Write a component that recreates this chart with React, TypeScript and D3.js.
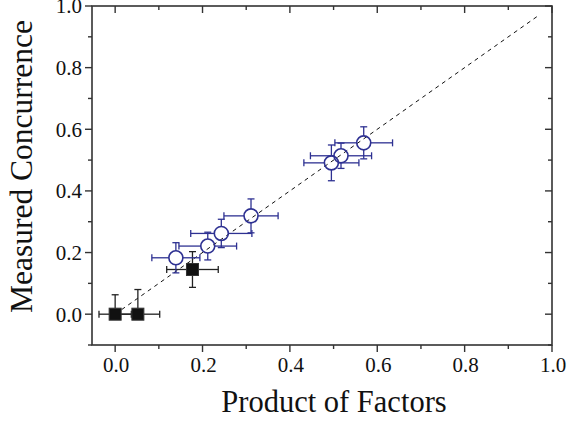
import React from "react";
import { scaleLinear, line } from "d3";

// open circles (blue)
const circleX = [0.139, 0.212, 0.243, 0.311, 0.495, 0.517, 0.569];
const circleY = [0.183, 0.221, 0.262, 0.319, 0.491, 0.514, 0.556];
const circleXErr = [0.055, 0.066, 0.07, 0.062, 0.063, 0.07, 0.066];
const circleYErr = [0.049, 0.045, 0.046, 0.055, 0.058, 0.041, 0.052];

// filled squares (black)
const squareX = [0.0, 0.052, 0.177];
const squareY = [0.0, 0.0, 0.145];
const squareXErr = [0.037, 0.05, 0.059];
const squareYErrUp = [0.063, 0.08, 0.058];
const squareYErrDown = [0, 0, 0.058];

const refLine: [number, number][] = [
  [0, 0],
  [0.97, 0.97],
];

const majorTicks = [0, 0.2, 0.4, 0.6, 0.8, 1.0];
const xMinorTicks = [0.1, 0.3, 0.5, 0.7, 0.9];
const yMinorTicks = [-0.1, 0.1, 0.3, 0.5, 0.7, 0.9];

const xTitle = "Product of Factors";
const yTitle = "Measured Concurrence";

const W = 569;
const H = 423;
const left = 92;
const right = 552;
const top = 6;
const bottom = 345;

const BLUE = "#2e3192";
const AXIS = "#333";
const FONT = "'Liberation Serif', 'Times New Roman', serif";

const App = () => {
  const x = scaleLinear().domain([-0.053, 1.0]).range([left, right]);
  const y = scaleLinear().domain([-0.1, 1.0]).range([bottom, top]);
  const r = 7;
  const half = 6;
  const cap = 3.5;

  const errBars = (
    cx: number,
    cy: number,
    xl: number,
    xr: number,
    yt: number,
    yb: number,
    gap: number,
    color: string,
    key: string
  ) => {
    const segs: JSX.Element[] = [];
    if (xr - cx > gap) {
      segs.push(<line key="r" x1={cx + gap} x2={xr} y1={cy} y2={cy} />);
      segs.push(<line key="rc" x1={xr} x2={xr} y1={cy - cap} y2={cy + cap} />);
    }
    if (cx - xl > gap) {
      segs.push(<line key="l" x1={cx - gap} x2={xl} y1={cy} y2={cy} />);
      segs.push(<line key="lc" x1={xl} x2={xl} y1={cy - cap} y2={cy + cap} />);
    }
    if (cy - yt > gap) {
      segs.push(<line key="t" x1={cx} x2={cx} y1={cy - gap} y2={yt} />);
      segs.push(<line key="tc" x1={cx - cap} x2={cx + cap} y1={yt} y2={yt} />);
    }
    if (yb - cy > gap) {
      segs.push(<line key="b" x1={cx} x2={cx} y1={cy + gap} y2={yb} />);
      segs.push(<line key="bc" x1={cx - cap} x2={cx + cap} y1={yb} y2={yb} />);
    }
    return (
      <g key={key} stroke={color} strokeWidth={1.3}>
        {segs}
      </g>
    );
  };

  const path = line<[number, number]>()
    .x((d) => x(d[0]))
    .y((d) => y(d[1]));

  return (
    <div style={{ position: "absolute", left: 0, top: 0 }}>
      <svg width={W} height={H} style={{ display: "block" }}>
        <rect width={W} height={H} fill="#fff" />

        {/* reference line */}
        <path
          d={path(refLine) || ""}
          fill="none"
          stroke="#111"
          strokeWidth={1}
          strokeDasharray="4,4"
        />

        {/* frame */}
        <rect
          x={left}
          y={top}
          width={right - left}
          height={bottom - top}
          fill="none"
          stroke={AXIS}
          strokeWidth={1.6}
        />

        {/* x ticks: outward on bottom, inward on top */}
        {majorTicks.map((t) => (
          <g key={"xt" + t} stroke={AXIS} strokeWidth={1.4}>
            <line x1={x(t)} x2={x(t)} y1={bottom} y2={bottom + 7} />
            <line x1={x(t)} x2={x(t)} y1={top} y2={top + 7} />
          </g>
        ))}
        {xMinorTicks.map((t) => (
          <g key={"xm" + t} stroke={AXIS} strokeWidth={1.4}>
            <line x1={x(t)} x2={x(t)} y1={bottom} y2={bottom + 4} />
            <line x1={x(t)} x2={x(t)} y1={top} y2={top + 4} />
          </g>
        ))}
        {majorTicks.map((t) => (
          <text
            key={"xl" + t}
            x={x(t) + 1}
            y={bottom + 27}
            textAnchor="middle"
            fontFamily={FONT}
            fontSize={21}
            fill="#111"
          >
            {t.toFixed(1)}
          </text>
        ))}

        {/* y ticks: outward on left, inward on right */}
        {majorTicks.map((t) => (
          <g key={"yt" + t} stroke={AXIS} strokeWidth={1.4}>
            <line x1={left - 7} x2={left} y1={y(t)} y2={y(t)} />
            <line x1={right - 7} x2={right} y1={y(t)} y2={y(t)} />
          </g>
        ))}
        {yMinorTicks.map((t) => (
          <g key={"ym" + t} stroke={AXIS} strokeWidth={1.4}>
            <line x1={left - 4} x2={left} y1={y(t)} y2={y(t)} />
            <line x1={right - 4} x2={right} y1={y(t)} y2={y(t)} />
          </g>
        ))}
        {majorTicks.map((t) => (
          <text
            key={"yl" + t}
            x={left - 10}
            y={y(t)}
            dy="0.35em"
            textAnchor="end"
            fontFamily={FONT}
            fontSize={21}
            fill="#111"
          >
            {t.toFixed(1)}
          </text>
        ))}

        {/* axis titles */}
        <text
          x={334}
          y={412}
          textAnchor="middle"
          fontFamily={FONT}
          fontSize={30.5}
          fill="#111"
        >
          {xTitle}
        </text>
        <text
          transform={`translate(32, 166.5) rotate(-90)`}
          textAnchor="middle"
          fontFamily={FONT}
          fontSize={31.5}
          fill="#111"
        >
          {yTitle}
        </text>

        {/* squares */}
        {squareX.map((v, i) =>
          errBars(
            x(v),
            y(squareY[i]),
            x(v - squareXErr[i]),
            x(v + squareXErr[i]),
            y(squareY[i] + squareYErrUp[i]),
            y(squareY[i] - squareYErrDown[i]),
            half,
            "#222",
            "se" + i
          )
        )}
        {squareX.map((v, i) => (
          <rect
            key={"sq" + i}
            x={x(v) - half}
            y={y(squareY[i]) - half}
            width={half * 2}
            height={half * 2}
            fill="#111"
            stroke="#333"
            strokeWidth={1}
          />
        ))}

        {/* circles */}
        {circleX.map((v, i) =>
          errBars(
            x(v),
            y(circleY[i]),
            x(v - circleXErr[i]),
            x(v + circleXErr[i]),
            y(circleY[i] + circleYErr[i]),
            y(circleY[i] - circleYErr[i]),
            r,
            BLUE,
            "ce" + i
          )
        )}
        {circleX.map((v, i) => (
          <circle
            key={"c" + i}
            cx={x(v)}
            cy={y(circleY[i])}
            r={r}
            fill="none"
            stroke={BLUE}
            strokeWidth={1.6}
          />
        ))}
      </svg>
    </div>
  );
};

export default App;
